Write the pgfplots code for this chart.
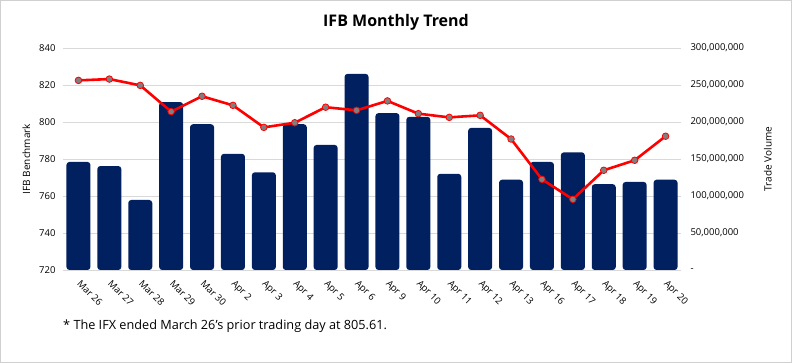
\documentclass[border=0pt]{standalone}
\usepackage{pgfplots}
\pgfplotsset{compat=1.18}
\usepackage{fontspec}
\setmainfont{Open Sans}
\definecolor{navy}{HTML}{002060}
\definecolor{gridgray}{HTML}{D9D9D9}
\definecolor{framegray}{HTML}{D0D0D0}
\definecolor{markgray}{HTML}{7F7F7F}
\begin{document}
\begin{tikzpicture}[x=1pt,y=1pt]
\path[draw=framegray, line width=1pt, fill=white] (0.5,0.5) rectangle (791.5,362.5);
\begin{axis}[
  at={(63pt,93pt)}, anchor=south west,
  width=618pt, height=222pt, scale only axis,
  xmin=-0.5, xmax=19.5, ymin=0, ymax=300000000,
  axis x line*=bottom, x axis line style={gridgray, line width=0.8pt},
  axis y line*=right, y axis line style={draw=none},
  major tick length=0pt,
  scaled y ticks=false,
  ymajorgrids, grid style={gridgray, line width=0.7pt},
  ytick={0,50000000,100000000,150000000,200000000,250000000,300000000},
  yticklabels={{-},{50,000,000},{100,000,000},{150,000,000},{200,000,000},{250,000,000},{300,000,000}},
  yticklabel style={font=\fontsize{9.5}{11}\selectfont, anchor=west, xshift=6pt},
  xtick={0,...,19},
  xticklabels={Mar 26,Mar 27,Mar 28,Mar 29,Mar 30,Apr 2,Apr 3,Apr 4,Apr 5,Apr 6,Apr 9,Apr 10,Apr 11,Apr 12,Apr 13,Apr 16,Apr 17,Apr 18,Apr 19,Apr 20},
  xticklabel style={font=\fontsize{9.5}{11}\selectfont, xshift=3pt, yshift=-8pt, rotate=-45, anchor=north west, inner sep=1pt},
  ylabel={Trade Volume}, ylabel style={font=\fontsize{10}{12}\selectfont, yshift=-13pt},
  ybar, bar width=24pt,
  /pgf/number format/assume math mode=true,
]
\addplot[fill=navy, draw=none, rounded corners=3pt] coordinates {
(0,146000000) (1,140500000) (2,94600000) (3,227000000) (4,197000000)
(5,157000000) (6,132000000) (7,197000000) (8,169000000) (9,265000000)
(10,212000000) (11,207000000) (12,130000000) (13,192000000) (14,122000000)
(15,146000000) (16,159000000) (17,116000000) (18,119000000) (19,122000000)
};
\end{axis}
\begin{axis}[
  at={(63pt,93pt)}, anchor=south west,
  width=618pt, height=222pt, scale only axis,
  xmin=-0.5, xmax=19.5, ymin=720, ymax=840,
  axis x line=none,
  axis y line*=left, y axis line style={draw=none},
  major tick length=0pt,
  ytick={720,740,...,840},
  yticklabel style={font=\fontsize{9.5}{11}\selectfont, xshift=-4pt},
  ylabel={IFB Benchmark}, ylabel style={font=\fontsize{10}{12}\selectfont, yshift=2pt},
  /pgf/number format/assume math mode=true,
]
\addplot[red, line width=2.6pt, mark=*, mark size=3.3pt,
  mark options={fill=markgray, draw=red, line width=0.8pt}] coordinates {
(0,822.5) (1,823.2) (2,819.8) (3,805.6) (4,813.9) (5,809.0) (6,797.1)
(7,799.6) (8,808.0) (9,806.3) (10,811.4) (11,804.5) (12,802.5) (13,803.6)
(14,790.8) (15,769.0) (16,758.2) (17,773.9) (18,779.3) (19,792.3)
};
\end{axis}
\node[font=\fontsize{16}{19}\selectfont\bfseries] at (396,341) {IFB Monthly Trend};
\node[font=\fontsize{12.7}{15}\selectfont, anchor=west, inner sep=0pt] at (63,37) {* The IFX ended March 26's prior trading day at 805.61.};
\end{tikzpicture}
\end{document}
